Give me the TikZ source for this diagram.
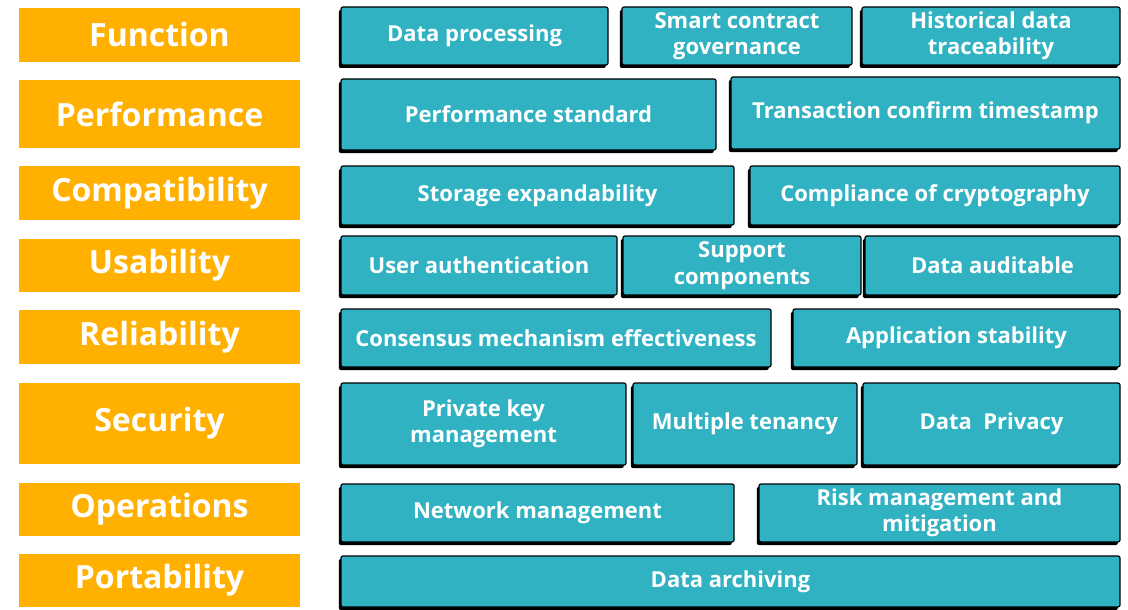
\documentclass[tikz,border=0pt]{standalone}
\usepackage{fontspec}
\setmainfont{Open Sans}[BoldFont={* Bold}]
\usepackage{tikz}
\usetikzlibrary{shadows}

\definecolor{areaorange}{RGB}{255,176,0}
\definecolor{cellteal}{RGB}{49,178,195}

\begin{document}
\begin{tikzpicture}[x=1pt, y=-1pt,
                    area/.style={fill=areaorange, text=white, inner sep=0,
                                 minimum width=281, font=\fontsize{32}{34}\selectfont\bfseries},
                    cell/.style={draw=black, line width=1.2pt, fill=cellteal, rounded corners=2pt,
                                 text=white, inner sep=0, align=center,
                                 font=\fontsize{22}{26.5}\selectfont\bfseries,
                                 drop shadow={shadow xshift=-2.2pt, shadow yshift=-3pt,
                                              opacity=1, fill=black}}]
                \useasboundingbox (0,0) rectangle (1128,610);

                % quality areas
                \node [area, minimum height=54] (function)    at (159.5,35)    {Function};
                \node [area, minimum height=68] (performance) at (159.5,114)   {Performance};
                \node [area, minimum height=54] (compat)      at (159.5,193)   {Compatibility};
                \node [area, minimum height=53] (usability)   at (159.5,265.5) {Usability};
                \node [area, minimum height=54] (reliability) at (159.5,337)   {Reliability};
                \node [area, minimum height=81] (security)    at (159.5,423.5) {Security};
                \node [area, minimum height=53] (operations)  at (159.5,509.5) {Operations};
                \node [area, minimum height=53] (portability) at (159.5,580.5) {Portability};

                % function
                \node [cell, minimum width=267, minimum height=58] (processing) at (474.5,36)  {Data processing};
                \node [cell, minimum width=230, minimum height=58] (contract)   at (737,36)    {Smart contract\\governance};
                \node [cell, minimum width=258, minimum height=58] (history)    at (991,36)    {Historical data\\traceability};

                % performance
                \node [cell, minimum width=375, minimum height=71] (standard)   at (528.5,114.5) {Performance standard};
                \node [cell, minimum width=389, minimum height=72] (timestamp)  at (925.5,113)   {Transaction confirm timestamp};

                % compatibility
                \node [cell, minimum width=393, minimum height=59] (storage)    at (537.5,195.5) {Storage expandability};
                \node [cell, minimum width=370, minimum height=59] (crypto)     at (935,195.5)   {Compliance of cryptography};

                % usability
                \node [cell, minimum width=276, minimum height=59] (userauth)   at (479,265.5)   {User authentication};
                \node [cell, minimum width=238, minimum height=59] (support)    at (742,265.5)   {Support\\components};
                \node [cell, minimum width=255, minimum height=59] (auditable)  at (992.5,265.5) {Data auditable};

                % reliability
                \node [cell, minimum width=430, minimum height=58] (consensus)  at (556,338)     {Consensus mechanism effectiveness};
                \node [cell, minimum width=327, minimum height=58] (stability)  at (956.5,338)   {Application stability};

                % security
                \node [cell, minimum width=285, minimum height=82] (privkey)    at (483.5,424)   {Private key\\management};
                \node [cell, minimum width=224, minimum height=82] (tenancy)    at (745,424)     {Multiple tenancy};
                \node [cell, minimum width=257, minimum height=82] (privacy)    at (991.5,424)   {Data~~Privacy};

                % operations
                \node [cell, minimum width=393, minimum height=58] (network)    at (537.5,513)   {Network management};
                \node [cell, minimum width=361, minimum height=58] (risk)       at (939.5,513)   {Risk management and\\mitigation};

                % portability
                \node [cell, minimum width=779, minimum height=51] (archiving)  at (730.5,581.5) {Data archiving};
            \end{tikzpicture}
\end{document}
